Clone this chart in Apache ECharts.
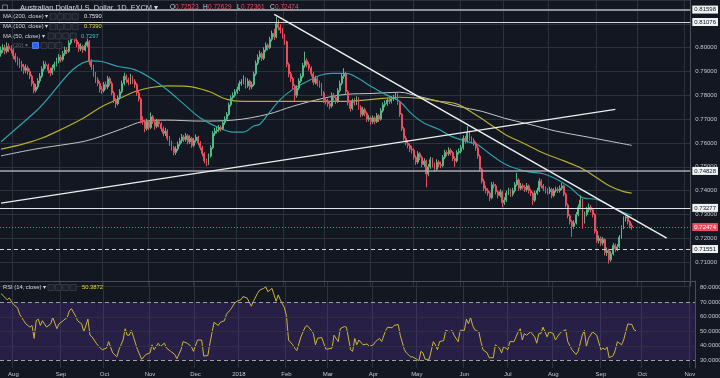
<!DOCTYPE html>
<html><head><meta charset="utf-8">
<script src="https://cdn.jsdelivr.net/npm/echarts@6/dist/echarts.min.js"></script>
<style>html,body{margin:0;padding:0;background:#131722;}#c{width:720px;height:378px;}</style>
</head><body><div id="c"></div>
<script>
// ---- categories: daily (weekday) sessions from 2017-07-24 ----
const startDate = [2017, 6, 24];
const categoryCount = 336;
const categories = [];
(function () {
  const d = new Date(Date.UTC(startDate[0], startDate[1], startDate[2]));
  while (categories.length < categoryCount) {
    const wd = d.getUTCDay();
    if (wd > 0 && wd < 6) categories.push(d.toISOString().slice(0, 10));
    d.setUTCDate(d.getUTCDate() + 1);
  }
})();
const monthNames = ['2018','Feb','Mar','Apr','May','Jun','Jul','Aug','Sep','Oct','Nov','Dec'];

// ---- AUD/USD daily candles ----
const firstOpen = 0.7975;
const closes = [
0.7990,0.8000,0.7985,0.8005,0.7995,0.7990,0.7965,0.7950,0.7942,0.7930,
0.7920,0.7905,0.7915,0.7900,0.7880,0.7850,0.7820,0.7835,0.7860,0.7880,
0.7910,0.7930,0.7925,0.7905,0.7895,0.7915,0.7930,0.7945,0.7960,0.7950,
0.7975,0.7990,0.7985,0.8020,0.8045,0.8050,0.8030,0.8015,0.7995,0.8005,
0.7990,0.8010,0.8025,0.7940,0.7920,0.7890,0.7865,0.7850,0.7825,0.7820,
0.7845,0.7835,0.7870,0.7850,0.7810,0.7780,0.7765,0.7790,0.7815,0.7850,
0.7880,0.7865,0.7855,0.7875,0.7860,0.7845,0.7810,0.7785,0.7695,0.7690,
0.7660,0.7690,0.7665,0.7710,0.7690,0.7670,0.7690,0.7680,0.7660,0.7640,
0.7650,0.7620,0.7600,0.7580,0.7560,0.7575,0.7595,0.7610,0.7625,0.7615,
0.7630,0.7605,0.7620,0.7590,0.7610,0.7625,0.7600,0.7580,0.7555,0.7525,
0.7515,0.7545,0.7580,0.7640,0.7650,0.7655,0.7665,0.7660,0.7685,0.7700,
0.7720,0.7760,0.7790,0.7800,0.7815,0.7825,0.7850,0.7855,0.7870,0.7840,
0.7860,0.7835,0.7845,0.7890,0.7935,0.7960,0.7975,0.7955,0.7990,0.8010,
0.8000,0.8035,0.8060,0.8045,0.8100,0.8085,0.8075,0.8050,0.8025,0.7930,
0.7890,0.7870,0.7840,0.7800,0.7830,0.7860,0.7880,0.7925,0.7945,0.7930,
0.7915,0.7890,0.7855,0.7870,0.7850,0.7845,0.7810,0.7780,0.7775,0.7765,
0.7755,0.7800,0.7790,0.7775,0.7820,0.7850,0.7880,0.7890,0.7815,0.7770,
0.7745,0.7775,0.7770,0.7785,0.7750,0.7720,0.7740,0.7725,0.7700,0.7705,
0.7690,0.7705,0.7690,0.7715,0.7700,0.7735,0.7760,0.7765,0.7780,0.7775,
0.7785,0.7790,0.7800,0.7770,0.7720,0.7660,0.7620,0.7600,0.7590,0.7575,
0.7570,0.7540,0.7520,0.7555,0.7540,0.7510,0.7525,0.7470,0.7500,0.7530,
0.7510,0.7490,0.7520,0.7510,0.7505,0.7540,0.7560,0.7555,0.7570,0.7560,
0.7535,0.7525,0.7560,0.7565,0.7580,0.7620,0.7610,0.7645,0.7620,0.7610,
0.7600,0.7580,0.7545,0.7490,0.7440,0.7410,0.7400,0.7390,0.7370,0.7425,
0.7420,0.7395,0.7380,0.7395,0.7350,0.7360,0.7390,0.7400,0.7385,0.7400,
0.7425,0.7445,0.7410,0.7420,0.7415,0.7405,0.7420,0.7400,0.7390,0.7360,
0.7390,0.7400,0.7440,0.7420,0.7410,0.7400,0.7395,0.7405,0.7380,0.7400,
0.7405,0.7400,0.7410,0.7420,0.7385,0.7340,0.7295,0.7270,0.7250,0.7265,
0.7300,0.7330,0.7360,0.7275,0.7300,0.7320,0.7330,0.7320,0.7300,0.7230,
0.7190,0.7200,0.7180,0.7195,0.7140,0.7150,0.7110,0.7135,0.7170,0.7155,
0.7165,0.7205,0.7245,0.7285,0.7290,0.7270,0.72523,0.72474
];
const highs = [
0.8005,0.8015,0.8012,0.8022,0.8018,0.8010,0.7998,0.7978,0.7962,0.7955,
0.7945,0.7932,0.7930,0.7925,0.7912,0.7888,0.7860,0.7848,0.7872,0.7893,
0.7922,0.7945,0.7942,0.7933,0.7916,0.7928,0.7941,0.7958,0.7973,0.7970,
0.7986,0.8004,0.8002,0.8031,0.8056,0.8062,0.8058,0.8040,0.8024,0.8018,
0.8012,0.8022,0.8038,0.8032,0.7952,0.7928,0.7898,0.7876,0.7860,0.7838,
0.7856,0.7858,0.7882,0.7878,0.7858,0.7818,0.7788,0.7800,0.7826,0.7862,
0.7895,0.7888,0.7874,0.7890,0.7882,0.7868,0.7852,0.7820,0.7792,0.7712,
0.7698,0.7702,0.7697,0.7728,0.7718,0.7698,0.7702,0.7700,0.7688,0.7670,
0.7664,0.7658,0.7630,0.7610,0.7588,0.7586,0.7606,0.7622,0.7638,0.7634,
0.7642,0.7638,0.7632,0.7626,0.7620,0.7636,0.7630,0.7608,0.7588,0.7562,
0.7534,0.7556,0.7590,0.7650,0.7664,0.7668,0.7676,0.7674,0.7694,0.7712,
0.7730,0.7770,0.7800,0.7812,0.7826,0.7836,0.7862,0.7868,0.7884,0.7876,
0.7872,0.7866,0.7858,0.7900,0.7946,0.7972,0.7988,0.7982,0.8002,0.8022,
0.8018,0.8046,0.8072,0.8078,0.8130,0.8118,0.8098,0.8082,0.8058,0.8030,
0.7938,0.7900,0.7878,0.7846,0.7842,0.7872,0.7892,0.7936,0.7983,0.7955,
0.7940,0.7922,0.7898,0.7882,0.7878,0.7862,0.7852,0.7818,0.7792,0.7786,
0.7774,0.7812,0.7810,0.7798,0.7830,0.7862,0.7892,0.7914,0.7898,0.7822,
0.7778,0.7786,0.7788,0.7796,0.7792,0.7758,0.7752,0.7748,0.7732,0.7718,
0.7712,0.7716,0.7712,0.7726,0.7722,0.7746,0.7770,0.7778,0.7790,0.7790,
0.7796,0.7802,0.7812,0.7808,0.7776,0.7726,0.7668,0.7630,0.7612,0.7598,
0.7588,0.7578,0.7548,0.7566,0.7562,0.7548,0.7536,0.7530,0.7512,0.7542,
0.7538,0.7518,0.7532,0.7528,0.7522,0.7550,0.7572,0.7570,0.7582,0.7578,
0.7566,0.7544,0.7570,0.7578,0.7592,0.7632,0.7630,0.7671,0.7652,0.7628,
0.7620,0.7606,0.7586,0.7552,0.7496,0.7450,0.7422,0.7410,0.7398,0.7436,
0.7438,0.7428,0.7402,0.7406,0.7400,0.7372,0.7400,0.7412,0.7408,0.7412,
0.7436,0.7475,0.7452,0.7432,0.7430,0.7424,0.7432,0.7426,0.7408,0.7396,
0.7400,0.7412,0.7452,0.7448,0.7428,0.7418,0.7410,0.7416,0.7412,0.7410,
0.7416,0.7414,0.7422,0.7432,0.7426,0.7392,0.7346,0.7302,0.7278,0.7276,
0.7310,0.7342,0.7380,0.7366,0.7312,0.7332,0.7346,0.7340,0.7328,0.7306,
0.7238,0.7212,0.7208,0.7206,0.7200,0.7162,0.7156,0.7146,0.7180,0.7178,
0.7176,0.7214,0.7254,0.7292,0.7296,0.7294,0.7276,0.72629
];
const lows = [
0.7962,0.7978,0.7972,0.7976,0.7981,0.7975,0.7952,0.7938,0.7925,0.7915,
0.7902,0.7890,0.7893,0.7886,0.7868,0.7838,0.7808,0.7812,0.7826,0.7850,
0.7872,0.7900,0.7912,0.7892,0.7880,0.7886,0.7904,0.7921,0.7934,0.7938,
0.7942,0.7966,0.7972,0.7978,0.8012,0.8033,0.8020,0.8002,0.7982,0.7986,
0.7978,0.7984,0.8002,0.7928,0.7908,0.7878,0.7852,0.7838,0.7812,0.7806,
0.7812,0.7824,0.7826,0.7840,0.7800,0.7768,0.7747,0.7758,0.7782,0.7808,
0.7842,0.7852,0.7842,0.7846,0.7848,0.7832,0.7798,0.7774,0.7682,0.7676,
0.7645,0.7652,0.7654,0.7658,0.7680,0.7656,0.7662,0.7666,0.7648,0.7628,
0.7630,0.7610,0.7588,0.7568,0.7548,0.7550,0.7566,0.7586,0.7600,0.7604,
0.7606,0.7594,0.7596,0.7580,0.7582,0.7602,0.7590,0.7570,0.7544,0.7514,
0.7503,0.7508,0.7538,0.7574,0.7630,0.7640,0.7646,0.7648,0.7654,0.7676,
0.7692,0.7714,0.7752,0.7782,0.7792,0.7806,0.7818,0.7840,0.7846,0.7828,
0.7832,0.7822,0.7826,0.7838,0.7882,0.7926,0.7950,0.7944,0.7948,0.7982,
0.7988,0.7994,0.8026,0.8032,0.8040,0.8072,0.8060,0.8038,0.8012,0.7918,
0.7876,0.7856,0.7826,0.7775,0.7790,0.7822,0.7852,0.7872,0.7916,0.7918,
0.7904,0.7878,0.7844,0.7846,0.7838,0.7832,0.7798,0.7768,0.7762,0.7752,
0.7742,0.7748,0.7778,0.7764,0.7768,0.7812,0.7842,0.7870,0.7806,0.7758,
0.7732,0.7738,0.7758,0.7760,0.7740,0.7708,0.7712,0.7712,0.7688,0.7690,
0.7676,0.7680,0.7678,0.7684,0.7688,0.7694,0.7728,0.7750,0.7756,0.7764,
0.7766,0.7776,0.7782,0.7760,0.7710,0.7650,0.7610,0.7590,0.7578,0.7562,
0.7556,0.7530,0.7508,0.7512,0.7528,0.7498,0.7500,0.7414,0.7460,0.7492,
0.7498,0.7478,0.7484,0.7498,0.7494,0.7498,0.7532,0.7544,0.7546,0.7548,
0.7524,0.7500,0.7518,0.7552,0.7556,0.7572,0.7598,0.7602,0.7610,0.7598,
0.7588,0.7568,0.7534,0.7480,0.7430,0.7398,0.7388,0.7378,0.7356,0.7364,
0.7408,0.7384,0.7368,0.7372,0.7331,0.7340,0.7352,0.7382,0.7374,0.7376,
0.7392,0.7418,0.7400,0.7402,0.7404,0.7394,0.7396,0.7388,0.7378,0.7340,
0.7352,0.7382,0.7394,0.7410,0.7398,0.7388,0.7384,0.7386,0.7368,0.7372,
0.7392,0.7390,0.7392,0.7402,0.7376,0.7330,0.7284,0.7258,0.7206,0.7240,
0.7258,0.7292,0.7322,0.7240,0.7262,0.7292,0.7310,0.7308,0.7288,0.7220,
0.7180,0.7178,0.7168,0.7170,0.7128,0.7126,0.7094,0.7102,0.7128,0.7144,
0.7146,0.7158,0.7198,0.7238,0.7270,0.7258,0.7242,0.72361
];

// ---- moving averages: [session index, value] ----
const ma50 = [[0,0.7605],[17,0.7733],[44,0.7945],[49,0.7942],[57,0.7921],[65,0.7908],[73,0.7872],[81,0.7822],[89,0.7763],[97,0.7705],[106,0.7664],[113,0.7646],[118,0.7646],[123,0.7671],[126,0.7679],[130,0.7721],[136,0.7783],[142,0.7825],[149,0.7858],[155,0.7883],[161,0.7892],[168,0.7892],[174,0.7871],[180,0.7838],[187,0.7804],[194,0.7775],[200,0.7721],[206,0.7683],[213,0.7658],[219,0.7629],[226,0.7608],[232,0.7592],[238,0.7554],[245,0.7513],[251,0.7492],[257,0.7479],[264,0.7471],[270,0.7450],[277,0.7413],[283,0.7371],[290,0.7363],[296,0.7338],[303,0.7308],[307,0.7297]];
const ma100 = [[0,0.7574],[11,0.7596],[20,0.7621],[30,0.7660],[40,0.7704],[49,0.7752],[59,0.7792],[65,0.7815],[73,0.7833],[81,0.7840],[91,0.7838],[101,0.7817],[110,0.7783],[118,0.7775],[126,0.7775],[142,0.7775],[155,0.7775],[168,0.7775],[181,0.7783],[194,0.7792],[203,0.7788],[213,0.7775],[222,0.7763],[232,0.7713],[238,0.7679],[245,0.7638],[255,0.7596],[264,0.7558],[274,0.7525],[283,0.7492],[290,0.7454],[296,0.7421],[303,0.7396],[307,0.7390]];
const ma200 = [[0,0.7546],[17,0.7575],[33,0.7596],[41,0.7608],[49,0.7629],[59,0.7660],[69,0.7690],[81,0.7696],[97,0.7692],[113,0.7696],[130,0.7721],[142,0.7754],[157,0.7788],[168,0.7804],[181,0.7808],[194,0.7813],[203,0.7796],[213,0.7775],[222,0.7754],[234,0.7733],[245,0.7704],[257,0.7679],[270,0.7650],[283,0.7629],[296,0.7608],[307,0.7590]];

// ---- RSI(14): [session index, value] ----
const rsi = [[0,76],[3,71.8],[4,73],[6,68.5],[8,66.2],[9,61.8],[11,57.3],[12,55.1],[14,52.9],[15,54],[16,45.1],[17,57.3],[18,58.4],[19,54],[20,57.3],[22,52.9],[24,55.1],[25,59.6],[27,51.8],[28,55.1],[30,57.3],[32,59.6],[33,64],[34,65.6],[36,60.7],[37,57.3],[39,55.1],[40,49.6],[42,58.4],[43,47.3],[44,46.2],[46,41.8],[48,38.4],[49,37.3],[51,38.4],[52,42.9],[54,35.1],[56,32.4],[57,37.3],[59,44],[60,51.8],[61,47.3],[62,47.3],[63,50.7],[64,46.2],[66,37.3],[68,30.7],[70,34],[72,35.1],[73,40.7],[74,37.3],[76,41.8],[77,39.5],[79,41.8],[80,38.4],[82,36.2],[84,34],[85,31.1],[87,37.3],[88,42.9],[90,41.8],[92,39.5],[93,36.2],[95,44],[97,44],[98,32.9],[100,33.3],[101,41.8],[103,56.2],[105,54],[106,56.2],[108,57.3],[109,61.8],[111,65.1],[113,69.6],[114,70.7],[116,71.8],[117,74],[119,72.9],[121,67.3],[122,70.7],[124,76.2],[125,78.4],[127,79.6],[128,80.7],[129,77.3],[131,79.6],[132,75.1],[133,70.7],[134,75.1],[135,71.8],[137,66.2],[138,60.7],[139,44],[141,40.7],[142,38.4],[143,36.7],[145,46.2],[147,52.9],[148,54],[150,50.7],[151,48.4],[152,40.7],[153,45.1],[155,45.8],[157,37.8],[158,37.8],[160,38.4],[161,47.3],[163,42.9],[164,51.8],[166,53.3],[167,52.9],[169,37.3],[170,36.2],[171,45.1],[172,40.7],[173,44],[175,40.7],[177,41.3],[178,39.5],[180,40.7],[181,42.9],[183,45.1],[184,42.9],[186,50.7],[187,52.9],[189,52.4],[190,54],[192,54.7],[193,47.3],[195,37.3],[196,35.1],[198,32.4],[199,32.4],[201,30.7],[202,29.6],[203,36.2],[204,35.1],[205,30.7],[207,30.7],[209,42.9],[210,40.7],[211,37.3],[212,42.9],[214,43.6],[215,50.7],[217,49.6],[218,50.7],[219,47.3],[221,42.9],[222,50.7],[224,50.7],[225,58.4],[226,55.1],[227,59.6],[228,54],[229,51.1],[231,49.6],[232,42.9],[233,37.3],[235,35.1],[236,31.8],[238,31.8],[239,40.7],[241,38.4],[242,35.1],[243,39.5],[245,37.3],[246,42.9],[248,42.9],[250,49.6],[251,51.8],[252,44],[253,48.4],[254,47.3],[256,49.6],[258,46.2],[259,41.8],[260,48.4],[261,48.4],[262,52.9],[264,46.2],[265,49.6],[267,48.4],[268,44],[270,48.4],[271,49.6],[273,51.1],[274,42.9],[276,37.3],[278,34],[279,36.2],[281,47.3],[282,50.7],[283,39.5],[284,45.1],[286,49.6],[288,47.3],[290,37.3],[291,38.4],[292,37.3],[293,39.1],[294,31.8],[296,33.3],[297,37.3],[298,42.9],[300,40.7],[301,44],[302,49.6],[303,55.1],[305,54.7],[306,51.1],[307,50.3872]];

// ---- drawn levels & trend lines ----
const solidLevels = [0.81598, 0.81076, 0.74828, 0.73277];
const dashedLevel = 0.71551;
const lastPrice = 0.72474;
const fallingTrend = [[133, 0.8140], [324, 0.7201]];
const risingTrend = [[0, 0.7348], [299, 0.7741]];
const rsiTicks = [80, 70, 60, 50, 40, 30];
const priceRange = [0.70, 0.82];
const rsiRange = [24.7, 84.7];

// ---- build ----
const UP = '#53b987', DOWN = '#eb4d5c';
const GRIDC = '#2c313d';
const FONT = '"Liberation Sans", Arial, sans-serif';
const candleData = closes.map((c, i) => {
  const o = i === 0 ? firstOpen : closes[i - 1]; // FX sessions open at the prior close
  return [o, c, lows[i], highs[i]];
});
function isMonthStart(i) {
  if (i === 0) return false;
  return categories[i].slice(5, 7) !== categories[i - 1].slice(5, 7);
}
function monthLabel(v) {
  const m = parseInt(v.slice(5, 7), 10);
  return m === 1 ? v.slice(0, 4) : monthNames[m - 1];
}
const boxLabel = (bg, fg, v) => ({
  show: true, position: 'end', distance: 2, fontSize: 6, fontFamily: FONT,
  backgroundColor: bg, color: fg, padding: [1, 2, 1, 2],
  formatter: v.toFixed(5)
});
const levelLineStyles = [
  {color: '#8d9099', width: 2, type: 'solid'},
  {color: '#d6d7da', width: 1, type: 'solid'},
  {color: '#a8aab1', width: 1.5, type: 'solid'},
  {color: '#e4e5e8', width: 1.2, type: 'solid'}
];
const priceMarks = solidLevels.map((v, k) => ({yAxis: v, lineStyle: levelLineStyles[k], label: boxLabel('#f0f1f3', '#131722', v)}));
priceMarks.push({yAxis: dashedLevel, lineStyle: {color: '#d0d1d5', width: 1, type: [4, 3]}, label: boxLabel('#f0f1f3', '#131722', dashedLevel)});
priceMarks.push({yAxis: lastPrice, lineStyle: {color: DOWN, width: 1, type: [1, 2]}, label: boxLabel(DOWN, '#ffffff', lastPrice)});
function trend(pts, w) {
  const st = {color: '#eeeeee', width: w, type: 'solid'};
  return [
    {coord: [categories[pts[0][0]], pts[0][1]], lineStyle: st, label: {show: false}},
    {coord: [categories[pts[1][0]], pts[1][1]], lineStyle: st, label: {show: false}}
  ];
}
priceMarks.push(trend(fallingTrend, 1.5));
priceMarks.push(trend(risingTrend, 1.2));

const rsiMarks = rsiTicks.map(v => {
  let ls;
  if (v === 70 || v === 30) ls = {color: '#9b9ea6', width: 1, type: [4, 3]};
  else if (v === 80) ls = {color: 'rgba(0,0,0,0)', width: 0};
  else ls = {color: GRIDC, width: 1, type: 'solid'};
  return {yAxis: v, lineStyle: ls, label: {show: true, position: 'end', distance: 5, fontSize: 6, fontFamily: FONT, color: '#c3c6ce', formatter: v.toFixed(4)}};
});
rsiMarks.push({yAxis: rsiRange[1], lineStyle: {color: '#4a4e59', width: 1, type: 'solid'}, label: {show: false}});

function txt(x, y, s, fill, size) {
  return {type: 'text', x: x, y: y, z: 100, silent: true,
    style: {text: s, fill: fill, font: size + 'px ' + FONT, align: 'left', verticalAlign: 'middle'}};
}
function boxes(x0, yc, n) {
  const out = [];
  for (let k = 0; k < n; k++) out.push({type: 'rect', z: 100, silent: true,
    shape: {x: x0 + k * 7.4, y: yc - 3, width: 6, height: 6},
    style: {fill: '#1c202b', stroke: '#3a3f4b', lineWidth: 0.8}});
  return out;
}
const TXT = '#d1d4dc';
const graphics = [
  {type: 'rect', z: 100, silent: true, shape: {x: 2.5, y: 5, width: 5, height: 5}, style: {fill: 'none', stroke: '#8a8d96', lineWidth: 0.8}},
  txt(20, 7.5, 'Australian Dollar/U.S. Dollar, 1D, FXCM \u25BE', TXT, 7.5),
  txt(170, 7.5, 'O', TXT, 6.5), txt(175, 7.5, '0.72523', DOWN, 6.5),
  txt(203, 7.5, 'H', TXT, 6.5), txt(208, 7.5, '0.72629', DOWN, 6.5),
  txt(237, 7.5, 'L', TXT, 6.5), txt(241, 7.5, '0.72361', DOWN, 6.5),
  txt(270, 7.5, 'C', TXT, 6.5), txt(275, 7.5, '0.72474', DOWN, 6.5),
  txt(3, 16.7, 'MA (200, close) \u25BE', TXT, 5.8), txt(84, 16.7, '0.7590', '#e6e6e6', 5.8),
  txt(3, 26.7, 'MA (100, close) \u25BE', TXT, 5.8), txt(84, 26.7, '0.7390', '#e8dc2e', 5.8),
  txt(3, 36, 'MA (50, close) \u25BE', TXT, 5.8), txt(81, 36, '0.7297', '#3fc3d2', 5.8),
  txt(13, 45.5, '(20) \u25BE', '#5d606b', 5.8),
  {type: 'rect', z: 100, silent: true, shape: {x: 32.5, y: 42.5, width: 6, height: 6}, style: {fill: '#2962ff', stroke: '#5b8cff', lineWidth: 0.8}},
  txt(3, 287.5, 'RSI (14, close) \u25BE', TXT, 5.8), txt(82, 287.5, '50.3872', '#e8dc2e', 5.8)
].concat(boxes(50, 16.7, 4), boxes(50, 26.7, 4), boxes(48, 36, 4), boxes(41, 45.5, 3), boxes(48, 287.5, 4));

const option = {
  backgroundColor: '#131722',
  animation: false,
  textStyle: {fontFamily: FONT},
  grid: [
    {left: -3.5, width: 698.5, top: -2, height: 288},
    {left: -3.5, width: 698.5, top: 281, height: 87}
  ],
  xAxis: [
    {type: 'category', gridIndex: 0, data: categories, boundaryGap: true,
      axisLine: {show: false}, axisTick: {show: false}, axisLabel: {show: false},
      splitLine: {show: true, interval: (i) => isMonthStart(i), lineStyle: {color: GRIDC, width: 1}}},
    {type: 'category', gridIndex: 1, data: categories, boundaryGap: true,
      axisLine: {show: false}, axisTick: {show: false},
      axisLabel: {show: true, interval: (i) => isMonthStart(i), formatter: monthLabel, color: '#c3c6ce', fontSize: 6, margin: 3, fontFamily: FONT},
      splitLine: {show: true, interval: (i) => isMonthStart(i), lineStyle: {color: GRIDC, width: 1}}}
  ],
  yAxis: [
    {type: 'value', gridIndex: 0, position: 'right', min: priceRange[0], max: priceRange[1], interval: 0.01,
      axisLine: {show: true, lineStyle: {color: '#4a4e59'}}, axisTick: {show: false},
      axisLabel: {color: '#c3c6ce', fontSize: 6, margin: 5, fontFamily: FONT,
        formatter: v => (v < 0.705 || v > 0.815) ? '' : v.toFixed(5)},
      splitLine: {show: true, lineStyle: {color: GRIDC, width: 1}}},
    {type: 'value', gridIndex: 1, position: 'right', min: rsiRange[0], max: rsiRange[1],
      axisLine: {show: true, lineStyle: {color: '#4a4e59'}}, axisTick: {show: false},
      axisLabel: {show: false}, splitLine: {show: false}}
  ],
  series: [
    {type: 'line', name: 'MA200', xAxisIndex: 0, yAxisIndex: 0, data: ma200, symbol: 'none', smooth: 0.35, silent: true,
      lineStyle: {color: '#c4c4c6', width: 1}, z: 3},
    {type: 'line', name: 'MA100', xAxisIndex: 0, yAxisIndex: 0, data: ma100, symbol: 'none', smooth: 0.35, silent: true,
      lineStyle: {color: '#b9ad2c', width: 1.2}, z: 3},
    {type: 'line', name: 'MA50', xAxisIndex: 0, yAxisIndex: 0, data: ma50, symbol: 'none', smooth: 0.35, silent: true,
      lineStyle: {color: '#2aa2ad', width: 1.2}, z: 3},
    {type: 'candlestick', name: 'AUDUSD', xAxisIndex: 0, yAxisIndex: 0, data: candleData, barWidth: '68%', z: 4,
      itemStyle: {color: UP, color0: DOWN, borderColor: UP, borderColor0: DOWN, borderWidth: 1},
      markLine: {silent: true, precision: 6, symbol: ['none', 'none'], animation: false, data: priceMarks}},
    {type: 'line', name: 'RSI', xAxisIndex: 1, yAxisIndex: 1, data: rsi, symbol: 'none', silent: true,
      lineStyle: {color: '#cbb634', width: 1}, z: 4,
      markArea: {silent: true, itemStyle: {color: 'rgba(103,58,183,0.24)'}, data: [[{yAxis: 30}, {yAxis: 70}]]},
      markLine: {silent: true, precision: 4, symbol: ['none', 'none'], animation: false, data: rsiMarks}}
  ],
  graphic: graphics
};
const chart = echarts.init(document.getElementById('c'));
chart.setOption(option);
</script></body></html>
